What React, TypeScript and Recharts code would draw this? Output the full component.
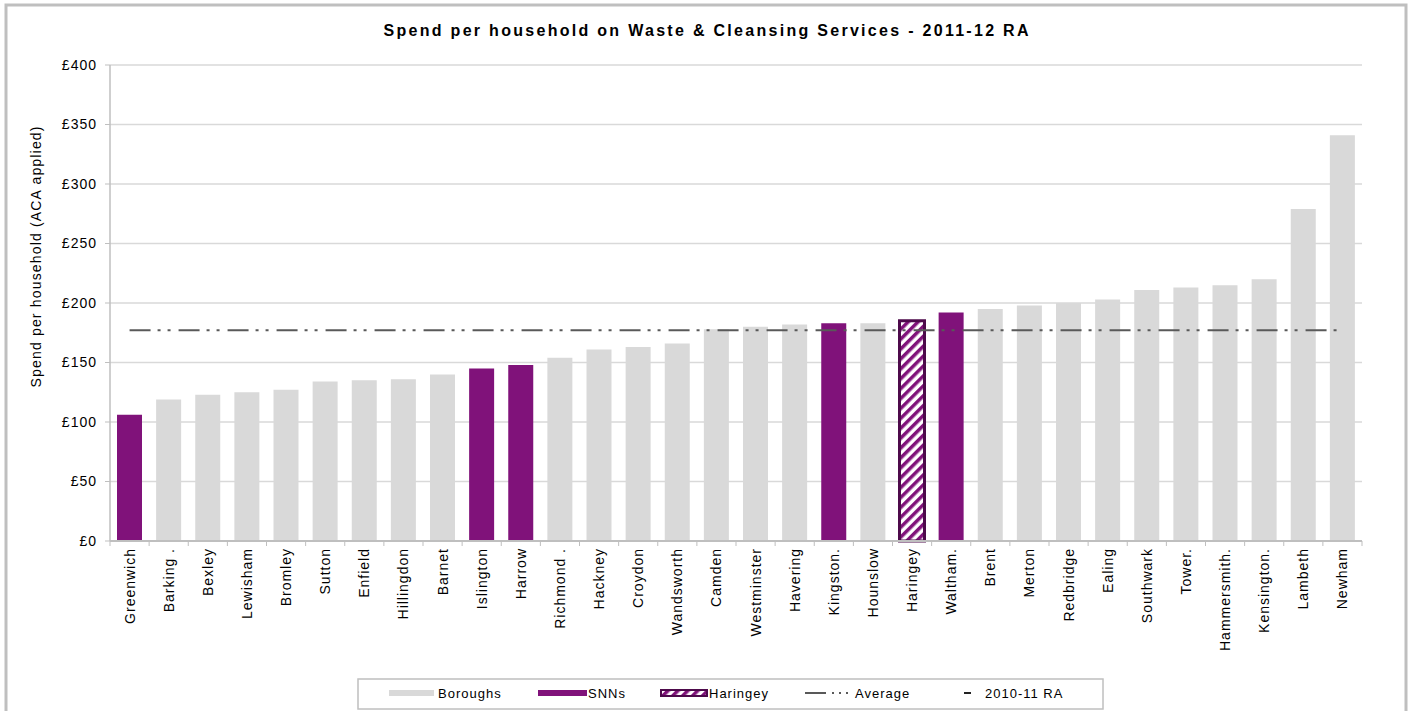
import React from 'react';
import { ComposedChart, Bar, Line, XAxis, YAxis, CartesianGrid, Cell } from 'recharts';

const categories = [
  'Greenwich', 'Barking .', 'Bexley', 'Lewisham', 'Bromley', 'Sutton', 'Enfield', 'Hillingdon',
  'Barnet', 'Islington', 'Harrow', 'Richmond .', 'Hackney', 'Croydon', 'Wandsworth', 'Camden',
  'Westminster', 'Havering', 'Kingston.', 'Hounslow', 'Haringey', 'Waltham.', 'Brent', 'Merton',
  'Redbridge', 'Ealing', 'Southwark', 'Tower.', 'Hammersmith.', 'Kensington.', 'Lambeth', 'Newham',
];
const spend2011 = [
  106, 119, 123, 125, 127, 134, 135, 136,
  140, 145, 148, 154, 161, 163, 166, 178,
  180, 182, 183, 183, 185, 192, 195, 198,
  200, 203, 211, 213, 215, 220, 279, 341,
];
const snnBoroughs = ['Greenwich', 'Islington', 'Harrow', 'Kingston.', 'Waltham.'];
const focusBorough = 'Haringey';
const AVERAGE = 177;
const yTicks = [0, 50, 100, 150, 200, 250, 300, 350, 400];

const data = categories.map((name, i) => ({ name, spend: spend2011[i], avg: AVERAGE }));

const GREY = '#d9d9d9';
const PURPLE = '#80127a';
const DARK_PURPLE = '#4d0a4b';
const AXIS = '#bfbfbf';
const FONT = '"Liberation Sans", Arial, sans-serif';

const PLOT_LEFT = 110;
const PLOT_RIGHT = 1362;
const PLOT_BOTTOM = 541;
const STEP = (PLOT_RIGHT - PLOT_LEFT) / categories.length;

const XTick = (props: any) => {
  const { x, payload, index } = props;
  const last = index === categories.length - 1;
  return (
    <g>
      <line x1={x - STEP / 2} x2={x - STEP / 2} y1={PLOT_BOTTOM} y2={PLOT_BOTTOM + 5} stroke={AXIS} strokeWidth={1} />
      {last && <line x1={x + STEP / 2} x2={x + STEP / 2} y1={PLOT_BOTTOM} y2={PLOT_BOTTOM + 5} stroke={AXIS} strokeWidth={1} />}
      <text
        transform={`translate(${x},${PLOT_BOTTOM + 7}) rotate(-90)`}
        dy="0.36em"
        textAnchor="end"
        fontSize={14}
        fontFamily={FONT}
        letterSpacing={1}
        fill="#000"
      >
        {payload.value}
      </text>
    </g>
  );
};

const fillFor = (name: string) => {
  if (name === focusBorough) return 'url(#haringeyHatch)';
  if (snnBoroughs.includes(name)) return PURPLE;
  return GREY;
};

export default function App() {
  return (
    <div style={{ position: 'fixed', left: 0, top: 0, width: 1412, height: 711, background: '#fff' }}>
      <svg width={1412} height={711} style={{ position: 'absolute', left: 0, top: 0 }}>
        <defs>
          <pattern id="haringeyHatch" width={7} height={7} patternUnits="userSpaceOnUse" patternTransform="rotate(45)">
            <rect x={0} y={0} width={7} height={7} fill="#fff" />
            <rect x={0} y={0} width={3.5} height={7} fill={PURPLE} />
          </pattern>
        </defs>
        <polyline points="6,712 6,5 1406,5 1406,712" fill="none" stroke={AXIS} strokeWidth={3} />
        <text x={706} y={36} textAnchor="middle" fontSize={16} fontWeight="bold" fontFamily={FONT} textLength={645} lengthAdjust="spacing">
          Spend per household on Waste &amp; Cleansing Services - 2011-12 RA
        </text>
        <text transform="translate(41,257) rotate(-90)" textAnchor="middle" fontSize={14} fontFamily={FONT} textLength={261} lengthAdjust="spacing">
          Spend per household (ACA applied)
        </text>
        {/* legend */}
        <rect x={358} y={679} width={745} height={30} fill="#fff" stroke={AXIS} strokeWidth={1.5} />
        <rect x={389} y={690} width={45} height={6} fill={GREY} />
        <text x={438} y={698} fontSize={13} fontFamily={FONT} letterSpacing={1}>Boroughs</text>
        <rect x={538} y={690} width={49} height={6} fill={PURPLE} />
        <text x={588} y={698} fontSize={13} fontFamily={FONT} letterSpacing={1}>SNNs</text>
        <rect x={661} y={690} width={46} height={6} fill="url(#haringeyHatch)" stroke={DARK_PURPLE} strokeWidth={2} />
        <text x={709} y={698} fontSize={13} fontFamily={FONT} letterSpacing={1}>Haringey</text>
        <line x1={805} x2={826} y1={693} y2={693} stroke="#595959" strokeWidth={2} />
        <rect x={832} y={692} width={2} height={2} fill="#595959" />
        <rect x={839} y={692} width={2} height={2} fill="#595959" />
        <rect x={846} y={692} width={2} height={2} fill="#595959" />
        <text x={855} y={698} fontSize={13} fontFamily={FONT} letterSpacing={1}>Average</text>
        <line x1={964} x2={971} y1={693} y2={693} stroke="#222" strokeWidth={2} />
        <text x={985} y={698} fontSize={13} fontFamily={FONT} letterSpacing={1}>2010-11 RA</text>
      </svg>
      <div style={{ position: 'absolute', left: 0, top: 0 }}>
        <ComposedChart
          width={1412}
          height={711}
          data={data}
          margin={{ top: 65, right: 50, left: 50, bottom: 60 }}
          barSize={25}
        >
          <CartesianGrid vertical={false} stroke={GREY} strokeWidth={1.5} />
          <XAxis
            dataKey="name"
            interval={0}
            height={110}
            axisLine={{ stroke: AXIS, strokeWidth: 2 }}
            tickLine={false}
            tick={<XTick />}
          />
          <YAxis
            width={60}
            domain={[0, 400]}
            ticks={yTicks}
            interval={0}
            tickFormatter={(v: number) => `£${v}`}
            axisLine={{ stroke: AXIS, strokeWidth: 1.5 }}
            tickLine={{ stroke: AXIS }}
            tickSize={5}
            tickMargin={8}
            tick={{ fontSize: 14, fontFamily: FONT, fill: '#000', letterSpacing: 1 }}
          />
          <Bar dataKey="spend" isAnimationActive={false}>
            {data.map((d) => (
              <Cell
                key={d.name}
                fill={fillFor(d.name)}
                stroke={d.name === focusBorough ? DARK_PURPLE : 'none'}
                strokeWidth={d.name === focusBorough ? 3 : 0}
              />
            ))}
          </Bar>
          <Line
            dataKey="avg"
            stroke="#595959"
            strokeWidth={2}
            strokeDasharray="21 7 3 7 3 8"
            dot={false}
            activeDot={false}
            isAnimationActive={false}
          />
        </ComposedChart>
      </div>
    </div>
  );
}
